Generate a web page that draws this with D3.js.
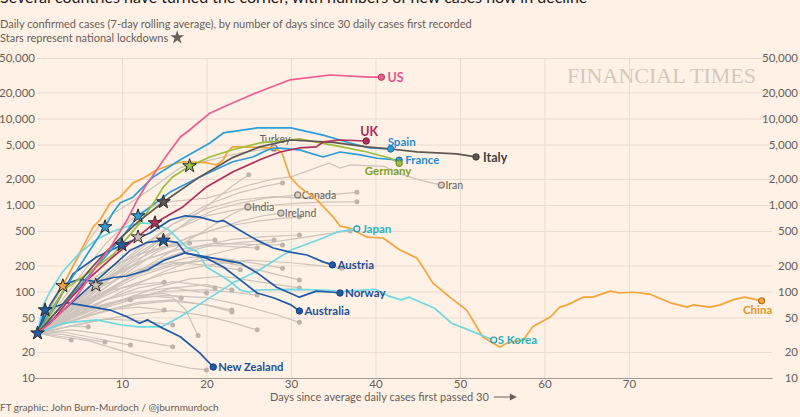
<!DOCTYPE html>
<html><head><meta charset="utf-8">
<script src="https://cdn.jsdelivr.net/npm/d3@7"></script>
<style>
html,body{margin:0;padding:0;background:#fff1e5;}
svg{display:block;font-family:Lato,"Noto Sans",sans-serif;}
</style></head><body>
<svg id="c" width="800" height="417"></svg>
<script>
// ---------------- DATA ----------------
const yTicks = [10,20,50,100,200,500,1000,2000,5000,10000,20000,50000];
const xTicks = [10,20,30,40,50,60,70];

const usData = [[0,33],[1.5,43],[3,60],[4.5,85],[5.4,113],[7,200],[8.6,320],[10.6,670],[11.8,1140],[12.7,1600],[14.9,3300],[16.9,6100],[18,7360],[20.4,11500],[22,13600],[26,20000],[29.9,28000],[34.6,31800],[39.3,30000],[40.7,30000]];
const ukData = [[0,33],[1.5,43],[3.5,75],[5.9,136],[8.9,250],[11.8,425],[13.9,620],[17.2,950],[20,1615],[23.1,2400],[26.3,3330],[28.7,4100],[31,4560],[33,4690],[33.8,5350],[35.8,5640],[38.9,5490]];
const spainData = [[0,33],[2,70],[4,140],[6,280],[8,557],[8.9,807],[9.8,1060],[11.3,1230],[13.7,2110],[16.9,3330],[20.4,5210],[22,6800],[26,7770],[30,7770],[33.8,6430],[37,5210],[39.3,4560],[41.8,4440]];
const franceData = [[0,33],[2,55],[4,90],[6,150],[8,250],[10,420],[11.9,745],[15.7,1410],[19.2,2110],[23.1,3160],[25.5,3590],[27.2,4330],[28.3,4560],[31,4330],[33.8,3590],[35.8,4100],[38.2,3800],[40.2,3470],[42.8,3300]];
const italyData = [[0,33],[2,55],[4,95],[6,170],[8,280],[10,430],[12,650],[14.9,1083],[19.2,2110],[23,3500],[26.3,4690],[29.9,5640],[35,5300],[39,4700],[41.8,4440],[44.9,4100],[49.6,3890],[51.9,3590]];
const germanyData = [[0,33],[1,45],[3.1,104],[5,140],[7,192],[9,270],[10.1,363],[12,600],[13.7,1045],[14.9,1615],[16,2110],[18,2825],[20.4,3590],[23,4325],[26.3,5210],[29.9,5640],[31,5800],[36,4690],[39,4100],[41.8,3470],[42.8,3030]];
const japanData = [[0,33],[3,43],[7,47],[10,41],[12,39],[14.7,39],[16.9,51],[20,80],[23.1,125],[26.3,178],[30,302],[33.8,415],[35.5,490],[37,515],[37.8,530]];
const sKoreaData = [[0,33],[0.7,70],[1.5,100],[3,170],[5,280],[7,400],[9,500],[11,580],[12.5,620],[14,600],[15.5,520],[16.5,420],[17.7,320],[18.9,290],[20,192],[22,147],[22.9,128],[24,104],[25,98],[26,104],[30,106],[34,104],[36,100],[40,106],[41.5,89],[43,80],[44,86],[47,64],[49,43],[51,36],[53,30],[54,27.5]];
const chinaData = [[0,33],[1,55],[2,80],[3,116],[4,180],[5,280],[6.6,557],[7.4,670],[8.6,1055],[9.8,1240],[11.3,1800],[12.5,2040],[14.1,2540],[15.7,2900],[17.2,3160],[20,3080],[21.2,2900],[22,3330],[22.4,4000],[23.1,4690],[24,4690],[27.9,4560],[28.9,4100],[29.9,2110],[31,1615],[32.6,1240],[33.1,1140],[35,725],[35.8,570],[37,540],[39,425],[40.9,415],[42.9,302],[44.9,244],[45.6,192],[46.8,125],[48.8,86],[50.8,61],[52.7,29.8],[54.7,22.8],[55.6,25.4],[57.5,27.5],[58.6,39],[60.7,50.7],[61.8,66],[62.7,70],[64.6,86],[65.7,86],[67.8,101],[68.9,96],[70.5,98],[72.5,93],[74.9,74],[76.9,66],[77.6,70],[79.6,66],[80.8,70],[82.3,80],[83.7,86],[85.7,78]];
const austriaData = [[0,33],[2,65],[4.2,160],[7,250],[10,345],[13.3,475],[15.7,670],[17.5,750],[19.2,725],[21.2,640],[22,660],[23.9,515],[25.9,395],[27.9,318],[29.9,285],[31.9,264],[33.8,220],[34.9,203]];
const norwayData = [[0,33],[3,60],[6,110],[9,200],[11,300],[13,370],[14.9,390],[16.5,370],[17.5,278],[20.8,243],[24,213],[26,164],[28.3,112],[31,86],[33,101],[35,98],[35.8,96]];
const australiaData = [[0,33],[1.5,70],[3,120],[5,138],[7,130],[9,145],[10.5,150],[13,177],[15,230],[17.5,280],[20,243],[22,192],[24,136],[26,96],[28,84],[30,70],[31,59.5]];
const newZealandData = [[0,33],[0.9,61],[3.5,74],[5,70],[8.6,61],[10.6,51],[12.1,43],[13,47],[14.5,39],[16.9,30],[19.2,19.5],[20.8,13.4]];

const turkeyData = [[0,33],[2,80],[4,180],[6,380],[7.4,590],[9,800],[11,1060],[13.7,1600],[16.9,2700],[20.4,3300],[24,4000],[28,4560]];
const canadaData = [[0,33],[3,50],[6,85],[9,150],[12,260],[15,420],[18,650],[21,880],[24,1050],[27,1200],[29,1250],[30.8,1306]];
const indiaData = [[0,33],[3,45],[6,70],[9,110],[12,170],[15,260],[18,400],[21,600],[23,780],[24.9,948]];
const irelandData = [[0,33],[3,60],[6,100],[9,160],[12,240],[15,330],[18,420],[21,520],[24,650],[27,760],[28.8,807]];
const iranData = [[0,33],[2,60],[4,110],[6,200],[8,350],[10,550],[12,800],[14,1000],[16,1100],[18,1150],[20,1200],[22,1350],[25,1700],[28,2000],[30,2110],[34.5,3040],[35.8,2670],[37,2900],[41,2790],[43.3,2230],[45.3,1940],[47.8,1700]];

const otherCountries = [
  [[0,33],[4,70],[8,150],[12,320],[16,600],[20,900],[24,1150],[28,1250],[31,1200],[34,1300],[36,1350],[37.8,1400]],
  [[0,33],[4,60],[8,130],[12,280],[16,500],[20,750],[24,900],[28,1000],[31,1050],[34,1080],[37.8,1090]],
  [[0,33],[4,55],[8,110],[12,230],[16,480],[19,800],[21,1150],[23,1650],[25,2230]],
  [[0,33],[4,65],[8,140],[12,300],[16,600],[20,1000],[24,1400],[27,1650],[29,1800]],
  [[0,33],[5,70],[10,150],[14,280],[18,430],[22,560],[26,650],[29,700],[31,725]],
  [[0,33],[5,60],[10,130],[15,240],[19,330],[23,400],[27,430],[31,450]],
  [[0,33],[4,55],[8,100],[12,170],[16,260],[20,330],[24,370],[28,395]],
  [[0,33],[5,80],[9,150],[13,240],[17,310],[21,360],[25,350],[29,345]],
  [[0,33],[5,55],[10,100],[15,170],[20,260],[25,340],[30,400],[34,460],[37,500]],
  [[0,33],[4,60],[8,100],[12,160],[16,210],[20,230],[24,200],[28,160],[31,136]],
  [[0,33],[5,50],[10,80],[14,110],[18,140],[22,150],[26,130],[31,110]],
  [[0,33],[5,70],[10,130],[14,200],[18,250],[22,240],[26,210],[29,186]],
  [[0,33],[4,70],[8,140],[12,220],[16,300],[20,340],[23,330],[26,318]],
  [[0,33],[4,55],[8,95],[12,150],[16,200],[20,230],[23,220]],
  [[0,33],[4,45],[8,65],[12,85],[16,110],[20,120],[23,104]],
  [[0,33],[4,65],[8,120],[12,180],[16,220],[20,200],[24,178]],
  [[0,33],[3,70],[6,130],[9,200],[12,270],[15,330],[18,380],[21,395]],
  [[0,33],[4,50],[8,80],[12,110],[16,130],[19,120],[21,110]],
  [[0,33],[4,48],[8,70],[12,90],[16,85],[17.5,62],[19,31]],
  [[0,33],[4,40],[8,48],[12,55],[16,60],[20,52],[23,44],[26,36]],
  [[0,33],[4,45],[8,60],[12,75],[16,80],[20,70],[23,58]],
  [[0,33],[3,30],[6,27],[9,22],[12,18],[15,15],[18,13],[20,12.4]],
  [[0,33],[5,60],[10,80],[15,90],[20,85],[24,70],[28,55],[31,44]],
  [[0,33],[5,65],[10,110],[15,160],[20,200],[25,230],[30,215],[33,200],[36,186]],
  [[0,33],[3,70],[6,130],[9,200],[12,270],[15,320],[18,360]],
  [[0,33],[3,55],[6,80],[9,105],[12,120],[15,128]],
  [[0,33],[4,55],[8,80],[12,100],[16,110],[20,96]],
  [[0,33],[3,48],[6,62],[9,75],[11,80]],
  [[0,33],[4,50],[8,70],[12,90],[15,95],[17,84]],
  [[0,33],[3,42],[6,52],[9,62],[12,66],[15,61]],
  [[0,33],[4,45],[8,60],[12,72],[16,78],[20,70],[23,61]],
  [[0,33],[4,40],[8,48],[12,46],[16,41]],
  [[0,33],[2,36],[4,40],[6,39]],
  [[0,33],[2,30],[4,27.5]],
  [[0,33],[3,32],[6,28],[8,26]],
  [[0,33],[3,34],[6,30],[9,26],[11,24]],
  [[0,33],[4,36],[8,32],[12,27],[16,23]],
  [[0,33],[5,55],[10,80],[15,100],[20,105],[23,98],[26,91]]
];

const starDays   = [0, 0.9, 3, 6.9, 8, 10, 11.9, 11.9, 13.9, 14.9, 14.9, 18];
const starValues = [33, 61, 116, 118, 557, 345, 745, 425, 620, 390, 1083, 2825];
const starGroups = ["darkblue","darkblue","orange","grey","blue","darkblue","blue","grey","claret","darkblue","italy","green"];

// ---------------- STYLE ----------------
const palette = {
  pink:"#ee5c8f", claret:"#b02f5b", blue:"#2b9ddb", italy:"#5c5753", green:"#9abe3d",
  cyan:"#6fd8e0", orange:"#f5a53a", darkblue:"#1f5aa6", grey:"#cfc6bd"
};
const labelCol = {
  pink:"#e6558a", claret:"#a82a55", blue:"#1f8cd4", italy:"#47423f", green:"#7ea12a",
  cyan:"#1fb3bf", orange:"#e8951d", darkblue:"#1b4f99", grey:"#6b645f"
};

const highlighted = [
  {name:"China", data:chinaData, c:"orange", ring:true},
  {name:"Japan", data:japanData, c:"cyan", ring:true},
  {name:"S Korea", data:sKoreaData, c:"cyan", ring:true},
  {name:"New Zealand", data:newZealandData, c:"darkblue"},
  {name:"Australia", data:australiaData, c:"darkblue"},
  {name:"Norway", data:norwayData, c:"darkblue"},
  {name:"Austria", data:austriaData, c:"darkblue"},
  {name:"France", data:franceData, c:"blue"},
  {name:"Spain", data:spainData, c:"blue"},
  {name:"Germany", data:germanyData, c:"green"},
  {name:"Italy", data:italyData, c:"italy"},
  {name:"UK", data:ukData, c:"claret"},
  {name:"US", data:usData, c:"pink"}
];
const greyLabelled = [
  {name:"Turkey", data:turkeyData}, {name:"Canada", data:canadaData},
  {name:"India", data:indiaData}, {name:"Ireland", data:irelandData},
  {name:"Iran", data:iranData}
];
const labelPos = {
  "US":{dx:6,dy:4.5,a:"start",fs:12.5}, "UK":{dx:3,dy:-5,a:"middle",fs:12.5},
  "Spain":{dx:-3,dy:-3,a:"start",fs:11.5}, "France":{dx:6,dy:4,a:"start",fs:11.5},
  "Germany":{dx:-11,dy:12,a:"middle",fs:11.5}, "Italy":{dx:7,dy:5,a:"start",fs:12.5},
  "Japan":{dx:5,dy:4,a:"start",fs:11.5}, "S Korea":{dx:4,dy:4,a:"start",fs:11.5},
  "China":{dx:-4,dy:13,a:"middle",fs:11.5}, "Austria":{dx:5,dy:4,a:"start",fs:11.5},
  "Norway":{dx:5,dy:4,a:"start",fs:11.5}, "Australia":{dx:5,dy:4,a:"start",fs:11.5},
  "New Zealand":{dx:5,dy:4,a:"start",fs:11.2},
  "Turkey":{dx:1,dy:-5,a:"middle",fs:10.5}, "Canada":{dx:4,dy:4,a:"start",fs:10.5},
  "India":{dx:4,dy:4,a:"start",fs:10.5}, "Ireland":{dx:4,dy:4,a:"start",fs:10.5},
  "Iran":{dx:4,dy:4,a:"start",fs:10.5}
};

// ---------------- DRAW ----------------
const svg = d3.select("#c");
svg.append("rect").attr("width",800).attr("height",417).attr("fill","#fff1e5");

const x = d3.scaleLinear().domain([0,87]).range([37.5,772.6]);
const y = d3.scaleLog().domain([10,50000]).range([378,58]);
const textGrey = "#66605c";

// watermark
svg.append("text").attr("x",567).attr("y",83).attr("font-family","'Liberation Serif','DejaVu Serif',serif")
  .attr("font-size",22).attr("fill","#d3c8bd").attr("textLength",189).text("FINANCIAL TIMES");

// gridlines + left axis
const gl = svg.append("g").attr("transform","translate(37,0)")
  .call(d3.axisLeft(y).tickValues(yTicks).tickFormat(d3.format(",")).tickSize(-735).tickPadding(2));
gl.select(".domain").remove();
gl.selectAll("line").attr("stroke","#eadbcf").attr("stroke-width",1);
gl.selectAll("text").attr("fill",textGrey).attr("font-size",11.5).attr("font-family","Lato,sans-serif");

const gr = svg.append("g").attr("transform","translate(772,0)")
  .call(d3.axisRight(y).tickValues(yTicks).tickFormat(d3.format(",")).tickSize(0));
gr.select(".domain").remove();
gr.selectAll("text").attr("x",26).attr("text-anchor","end").attr("fill",textGrey).attr("font-size",11.5).attr("font-family","Lato,sans-serif");

const gx = svg.append("g").attr("transform","translate(0,378)")
  .call(d3.axisBottom(x).tickValues(xTicks).tickSize(-320).tickPadding(2));
gx.select(".domain").remove();
gx.selectAll("line").attr("stroke","#eadbcf");
gx.selectAll("text").attr("fill",textGrey).attr("font-size",11.5).attr("font-family","Lato,sans-serif");
svg.append("line").attr("x1",33).attr("x2",772.6).attr("y1",378.5).attr("y2",378.5).attr("stroke","#a39a93").attr("stroke-width",1);

const line = d3.line().x(d=>x(d[0])).y(d=>y(d[1]));

// grey lines
const gg = svg.append("g");
otherCountries.concat(greyLabelled.map(d=>d.data)).forEach(s=>{
  gg.append("path").attr("d",line(s)).attr("fill","none").attr("stroke","#cdc4bb").attr("stroke-width",1.2);
});
otherCountries.forEach(s=>{
  const e=s[s.length-1];
  gg.append("circle").attr("cx",x(e[0])).attr("cy",y(e[1])).attr("r",2.5).attr("fill","#bdb4ab");
});
greyLabelled.forEach(s=>{
  const e=s.data[s.data.length-1];
  gg.append("circle").attr("cx",x(e[0])).attr("cy",y(e[1])).attr("r",3).attr("fill","#d9cfc5").attr("stroke","#8a827c").attr("stroke-width",1.3);
  const p=labelPos[s.name];
  gg.append("text").attr("x",x(e[0])+p.dx).attr("y",y(e[1])+p.dy).attr("text-anchor",p.a)
    .attr("font-size",p.fs).attr("fill",textGrey).text(s.name);
});

// highlighted lines
const hg = svg.append("g");
highlighted.forEach(s=>{
  hg.append("path").attr("d",line(s.data)).attr("fill","none").attr("stroke",palette[s.c]).attr("stroke-width",1.7).attr("stroke-linejoin","round");
});

// stars
const star = d3.symbol().type(d3.symbolStar).size(58);
starDays.forEach((d,i)=>{
  const g = starGroups[i];
  svg.append("path").attr("d",star()).attr("transform",`translate(${x(d)},${y(starValues[i])})`)
    .attr("fill", g==="grey" ? "#c9c0b8" : palette[g]).attr("stroke","#2b2b2b").attr("stroke-width",1);
});

// end dots + labels
highlighted.forEach(s=>{
  const e=s.data[s.data.length-1];
  const cx=x(e[0]), cy=y(e[1]);
  if(s.ring){
    hg.append("circle").attr("cx",cx).attr("cy",cy).attr("r",3).attr("fill", s.c==="orange"?"#f5a53a":"#cfeff2")
      .attr("stroke", s.c==="orange"?"#b4701c":"#2a8fa0").attr("stroke-width",1.1);
  } else {
    hg.append("circle").attr("cx",cx).attr("cy",cy).attr("r",3.2).attr("fill",palette[s.c])
      .attr("stroke",d3.color(palette[s.c]).darker(1)).attr("stroke-width",1);
  }
  const p=labelPos[s.name];
  hg.append("text").attr("x",cx+p.dx).attr("y",cy+p.dy).attr("text-anchor",p.a)
    .attr("font-size",p.fs).attr("font-weight",700).attr("fill",labelCol[s.c]).text(s.name);
});

// titles
svg.append("text").attr("x",0).attr("y",3).attr("font-size",16).attr("fill","#1a1817")
  .text("Several countries have turned the corner, with numbers of new cases now in decline");
svg.append("text").attr("x",0).attr("y",28).attr("font-size",11).attr("fill",textGrey)
  .text("Daily confirmed cases (7-day rolling average), by number of days since 30 daily cases first recorded");
const st = svg.append("text").attr("x",0).attr("y",41.5).attr("font-size",11).attr("fill",textGrey)
  .text("Stars represent national lockdowns");
const stw = st.node().getComputedTextLength();
svg.append("path").attr("d",d3.symbol().type(d3.symbolStar).size(60)()).attr("transform",`translate(${stw+9},37.5)`).attr("fill","#66605c");

// x axis title
const xt = svg.append("text").attr("x",270).attr("y",401).attr("font-size",11).attr("fill",textGrey)
  .text("Days since average daily cases first passed 30");
const xtw = xt.node().getComputedTextLength();
svg.append("line").attr("x1",270+xtw+5).attr("x2",270+xtw+24).attr("y1",397).attr("y2",397).attr("stroke",textGrey).attr("stroke-width",1);
svg.append("path").attr("d",`M${270+xtw+28},397 L${270+xtw+21},393.5 L${270+xtw+21},400.5 Z`).attr("fill",textGrey);

// footer
svg.append("text").attr("x",0).attr("y",411).attr("font-size",10).attr("fill",textGrey)
  .text("FT graphic: John Burn-Murdoch / @jburnmurdoch");
svg.append("text").attr("x",0).attr("y",423.5).attr("font-size",10).attr("fill",textGrey)
  .text("Source: FT analysis of European Centre for Disease Prevention and Control; FT research. Data updated April 11, 19:00 GMT");
</script>
</body></html>
